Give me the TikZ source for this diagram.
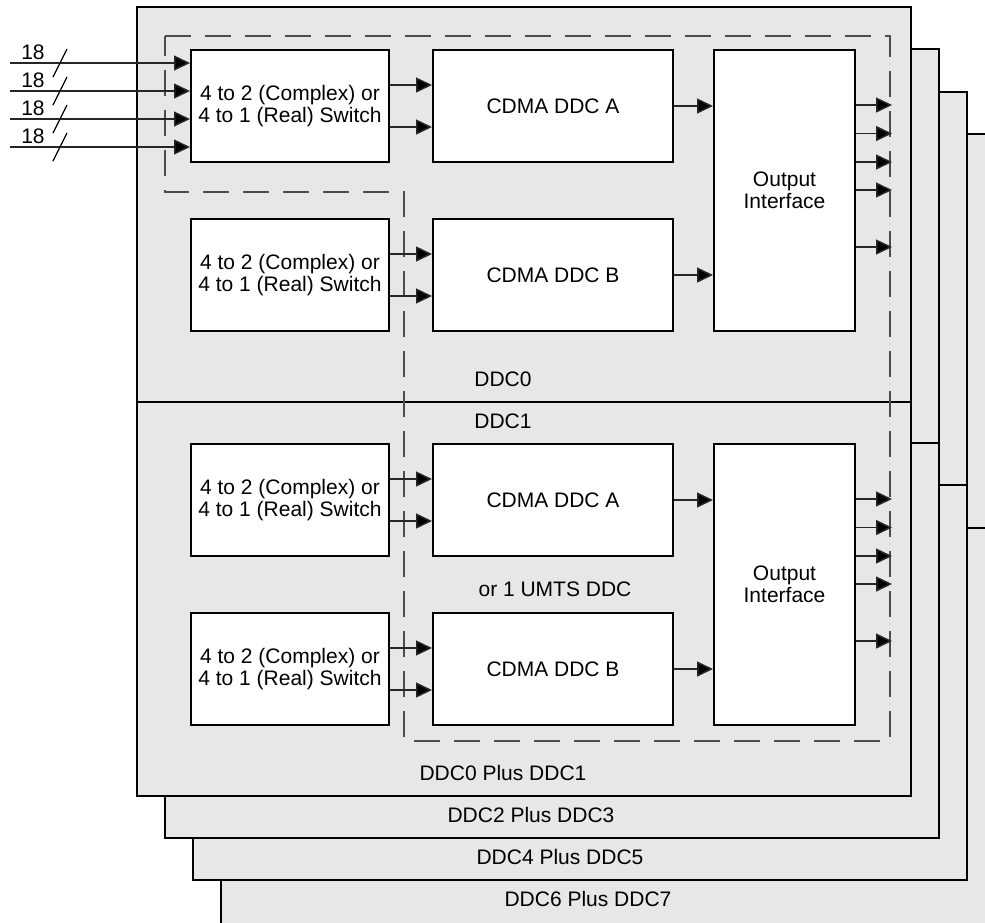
\documentclass[tikz,border=0pt]{standalone}
\usepackage{fontspec}
\setmainfont{Liberation Sans}
\usetikzlibrary{arrows.meta}
\definecolor{boardgray}{RGB}{231,231,231}
\begin{document}
\begin{tikzpicture}[x=0.5pt,y=-0.5pt,
  board/.style={draw=black,line width=1pt,fill=boardgray},
  blk/.style={draw=black,line width=1pt,fill=white,anchor=north west,inner sep=0pt,align=center,font=\fontsize{10.5}{11.2}\selectfont},
  swbox/.style={blk,minimum width=99pt,minimum height=56pt},
  ddcbox/.style={blk,minimum width=120pt,minimum height=56pt},
  outbox/.style={blk,minimum width=70.5pt,minimum height=140.5pt},
  sig/.style={draw=black!85,line width=0.75pt,-{Triangle[length=8pt,width=7.5pt,fill=black]}},
  lbl/.style={font=\fontsize{10.5}{12}\selectfont,inner sep=0pt},
  dashbox/.style={draw=black!70,line width=0.7pt,dash pattern=on 13pt off 7pt},
  busmark/.style={draw=black,line width=0.6pt},
]
\useasboundingbox (0,0) rectangle (985,922);
% stacked boards (back to front)
\begin{scope}
\clip (0,0) rectangle (985,922);
\draw[board] (221,134) rectangle (1010,950);
\draw[board] (967,528) -- (1010,528);
\end{scope}
\node[lbl] (b3lbl) at (588,899) {DDC6 Plus DDC7};
\draw[board] (193,92) rectangle (967,880);
\draw[board] (939,485) -- (967,485);
\node[lbl] (b2lbl) at (560,857) {DDC4 Plus DDC5};
\draw[board] (165,49) rectangle (939,838);
\draw[board] (911,443) -- (939,443);
\node[lbl] (b1lbl) at (531,815) {DDC2 Plus DDC3};
\draw[board] (137,7) rectangle (911,796);
\draw[board] (137,402) -- (911,402);
\node[lbl] (b0lbl) at (503,773) {DDC0 Plus DDC1};
\node[lbl] (ddc0) at (503,379) {DDC0};
\node[lbl] (ddc1) at (503,421) {DDC1};
\node[lbl] (umts) at (555,589) {or 1 UMTS DDC};
% dashed region
\draw[dashbox] (165,36) -- (890,36) -- (890,741) -- (404,741) -- (404,192) -- (165,192) -- cycle;
% blocks
\node[swbox] (sw1) at (190,49) {4 to 2 (Complex) or\\4 to 1 (Real) Switch};
\node[swbox] (sw2) at (190,218) {4 to 2 (Complex) or\\4 to 1 (Real) Switch};
\node[swbox] (sw3) at (190,443) {4 to 2 (Complex) or\\4 to 1 (Real) Switch};
\node[swbox] (sw4) at (190,612) {4 to 2 (Complex) or\\4 to 1 (Real) Switch};
\node[ddcbox] (dA1) at (432,49) {CDMA DDC A};
\node[ddcbox] (dB1) at (432,218) {CDMA DDC B};
\node[ddcbox] (dA2) at (432,443) {CDMA DDC A};
\node[ddcbox] (dB2) at (432,612) {CDMA DDC B};
\node[outbox] (out1) at (713,49) {Output\\Interface};
\node[outbox] (out2) at (713,443) {Output\\Interface};
% inputs
\foreach \i/\yy in {1/63,2/91,3/119,4/147}{
  \coordinate (in\i) at (10,\yy);
  \draw[sig] (in\i) -- (in\i -| sw1.west);
  \draw[busmark] ([shift={(43,14)}]in\i) -- ([shift={(57,-14)}]in\i);
  \node[lbl] (n18\i) at ([shift={(23,-11)}]in\i) {18};
}
% switch to DDC
\foreach \s/\d in {sw1/dA1,sw2/dB1,sw3/dA2,sw4/dB2}{
  \draw[sig] ([yshift=10.5pt]\s.east) -- ([yshift=10.5pt]\d.west);
  \draw[sig] ([yshift=-10.5pt]\s.east) -- ([yshift=-10.5pt]\d.west);
}
% DDC to output
\draw[sig] (dA1.east) -- (dA1.east -| out1.west);
\draw[sig] (dB1.east) -- (dB1.east -| out1.west);
\draw[sig] (dA2.east) -- (dA2.east -| out2.west);
\draw[sig] (dB2.east) -- (dB2.east -| out2.west);
% outputs
\foreach \o in {out1,out2}{
  \foreach \off in {28,42.25,56.5,70.5,99}{
    \draw[sig] ([yshift=-\off pt]\o.north east) -- ++(36,0);
  }
}
\end{tikzpicture}
\end{document}
